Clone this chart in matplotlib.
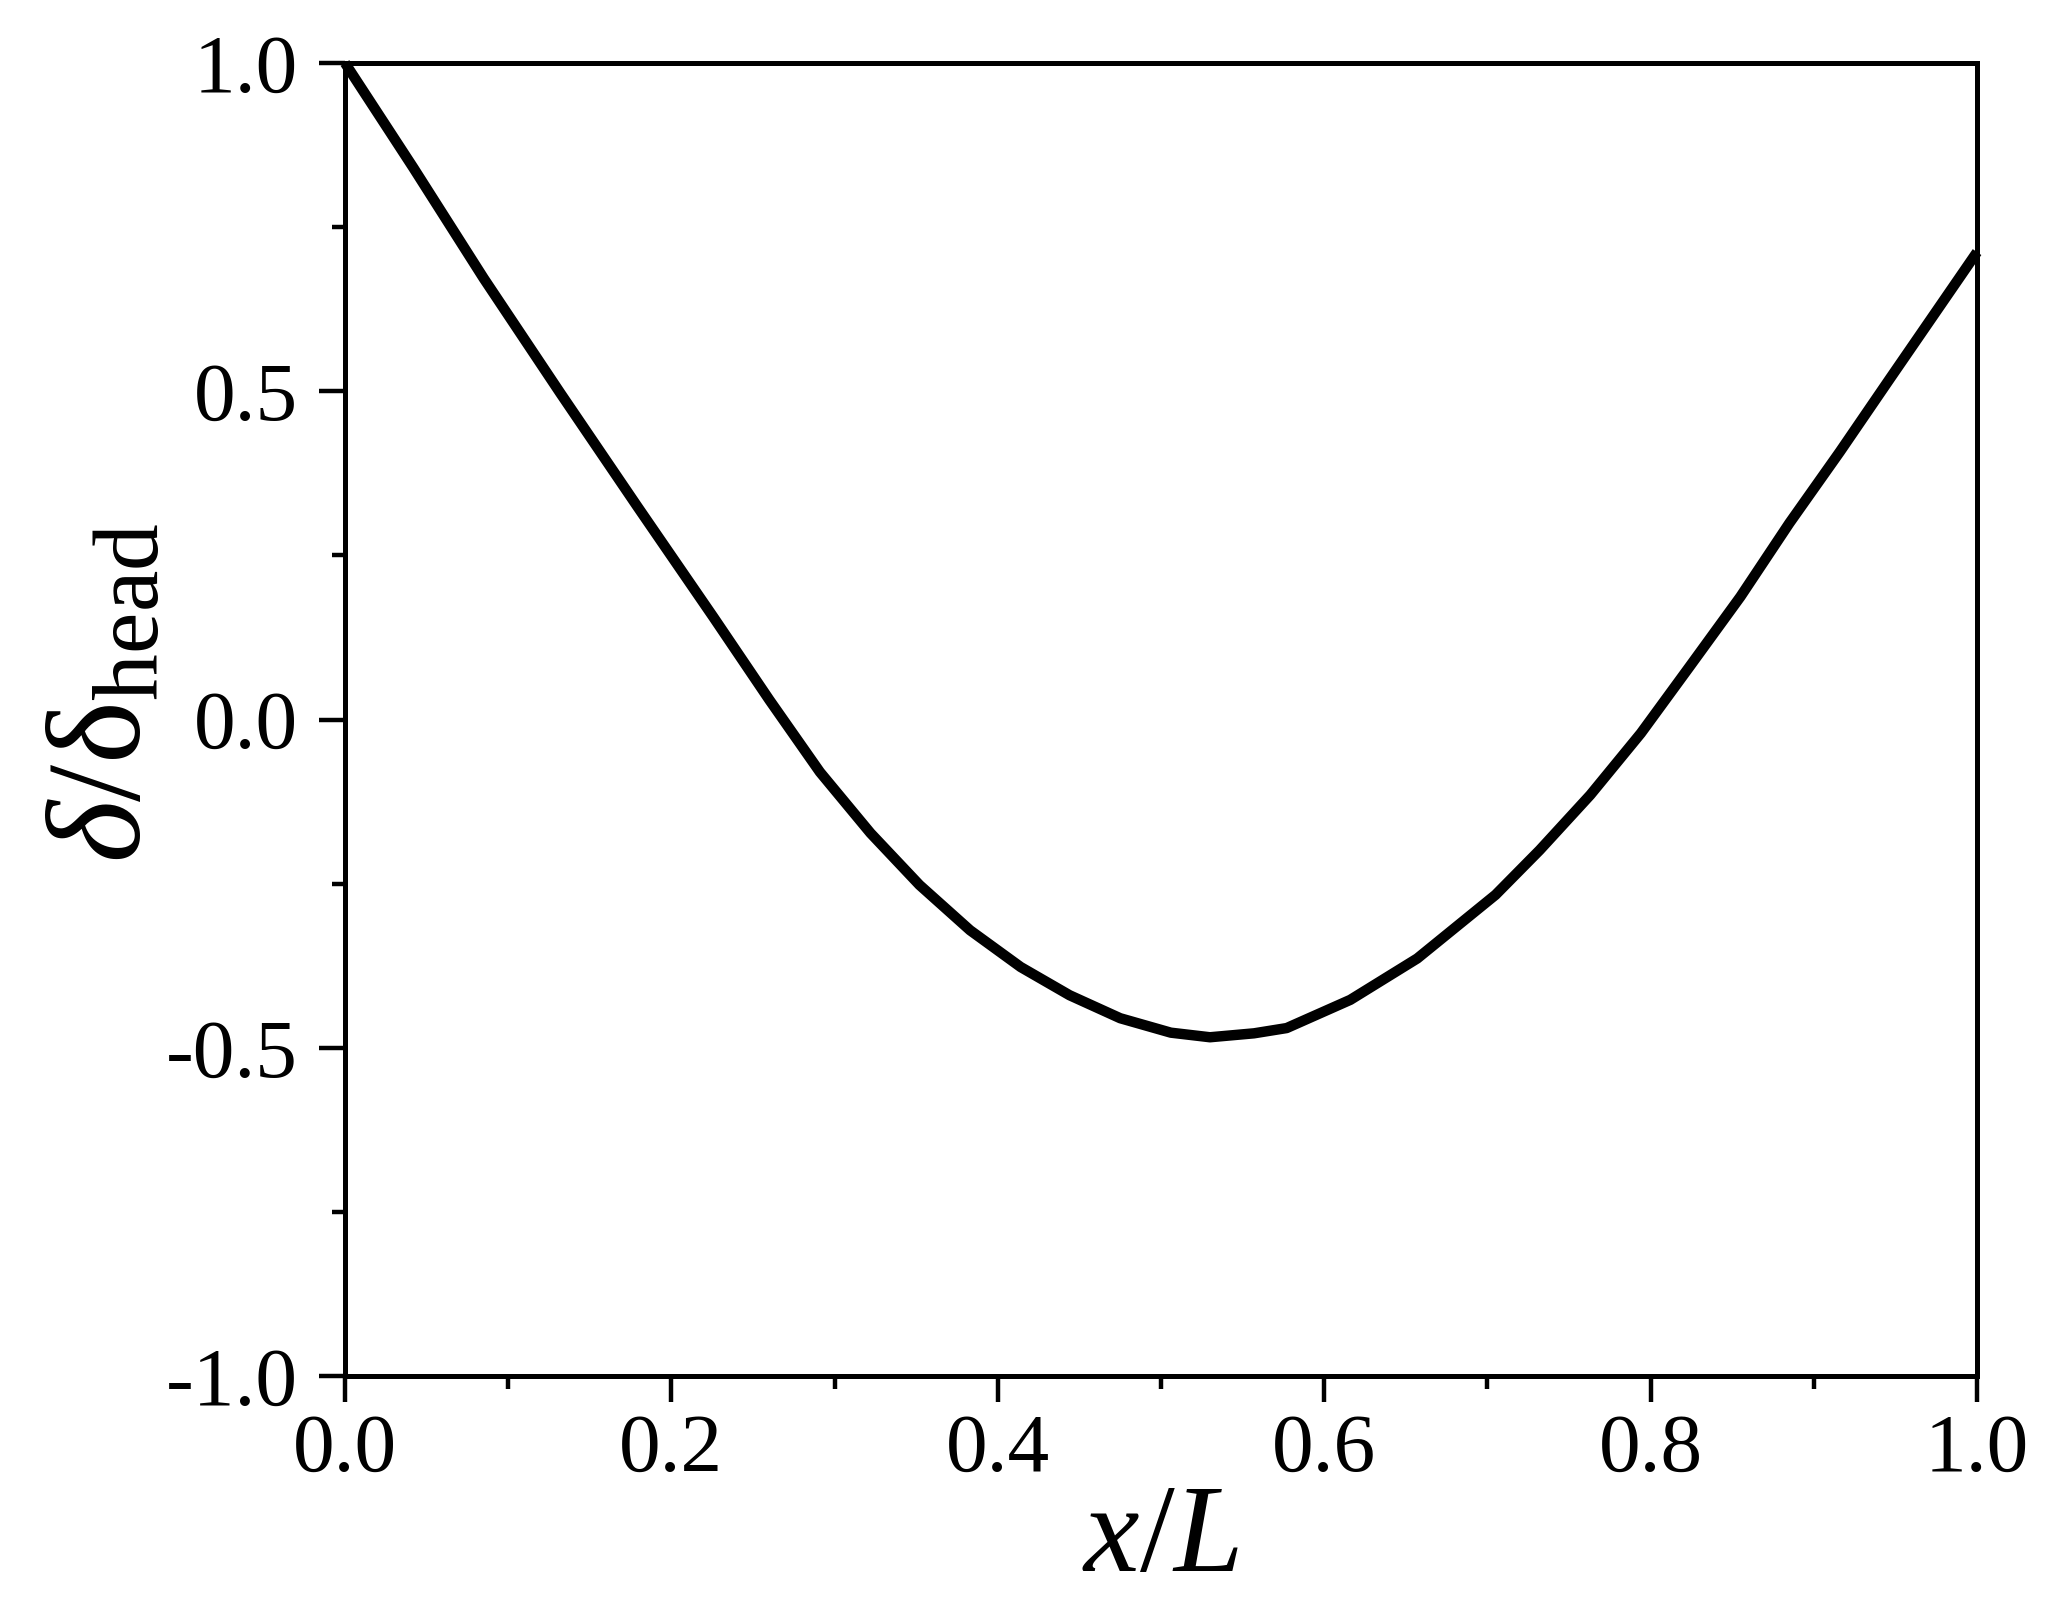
import matplotlib
matplotlib.use("Agg")
import matplotlib.pyplot as plt
from matplotlib.ticker import MultipleLocator

# Data
x_over_L = [0.000, 0.042, 0.085, 0.132, 0.179, 0.226, 0.260, 0.291, 0.322,
            0.352, 0.383, 0.414, 0.444, 0.475, 0.506, 0.530, 0.557, 0.577,
            0.616, 0.657, 0.705, 0.732, 0.763, 0.794, 0.824, 0.855, 0.885,
            0.916, 0.946, 1.000]
delta_ratio = [1.000, 0.840, 0.672, 0.497, 0.325, 0.155, 0.030, -0.080, -0.173,
               -0.252, -0.321, -0.377, -0.420, -0.455, -0.477, -0.484, -0.478, -0.470,
               -0.427, -0.364, -0.267, -0.199, -0.115, -0.021, 0.081, 0.187, 0.299,
               0.408, 0.517, 0.712]

x_ticks = [0.0, 0.2, 0.4, 0.6, 0.8, 1.0]
x_ticklabels = ["0.0", "0.2", "0.4", "0.6", "0.8", "1.0"]
y_ticks = [-1.0, -0.5, 0.0, 0.5, 1.0]
y_ticklabels = ["-1.0", "-0.5", "0.0", "0.5", "1.0"]

plt.rcParams['font.family'] = ['Liberation Serif', 'DejaVu Serif']
plt.rcParams['mathtext.fontset'] = 'custom'
plt.rcParams['mathtext.rm'] = 'Liberation Serif'
plt.rcParams['mathtext.it'] = 'Liberation Serif:italic'
plt.rcParams['mathtext.bf'] = 'Liberation Serif:bold'

fig = plt.figure(figsize=(20.62, 16.03), dpi=100)
ax = fig.add_axes([0.1673, 0.1416, 0.7915, 0.8191])

ax.plot(x_over_L, delta_ratio, color='black', lw=7.5, solid_joinstyle='round',
        solid_capstyle='butt', clip_on=False)

ax.set_xlim(0, 1)
ax.set_ylim(-1, 1)
ax.set_xticks(x_ticks)
ax.set_xticklabels(x_ticklabels)
ax.set_yticks(y_ticks)
ax.set_yticklabels(y_ticklabels)
ax.xaxis.set_minor_locator(MultipleLocator(0.1))
ax.yaxis.set_minor_locator(MultipleLocator(0.25))

for s in ax.spines.values():
    s.set_linewidth(3.6)

ax.tick_params(which='major', direction='out', length=18.7, width=3.2,
               labelsize=60, top=False, right=False)
ax.tick_params(which='minor', direction='out', length=9.4, width=3.2,
               top=False, right=False)
ax.tick_params(axis='x', which='major', pad=8)
ax.tick_params(axis='y', which='major', pad=15)

ax.set_xlabel(r'$\mathit{x}/\mathit{L}$', fontsize=90)
ax.set_ylabel(r'$\mathit{δ}/\mathrm{δ}_{\mathrm{head}}$', fontsize=96)
ax.xaxis.set_label_coords(0.5, -0.082)
ax.yaxis.set_label_coords(-0.108, 0.52)

fig.savefig('out.png', dpi=100, facecolor='white')
